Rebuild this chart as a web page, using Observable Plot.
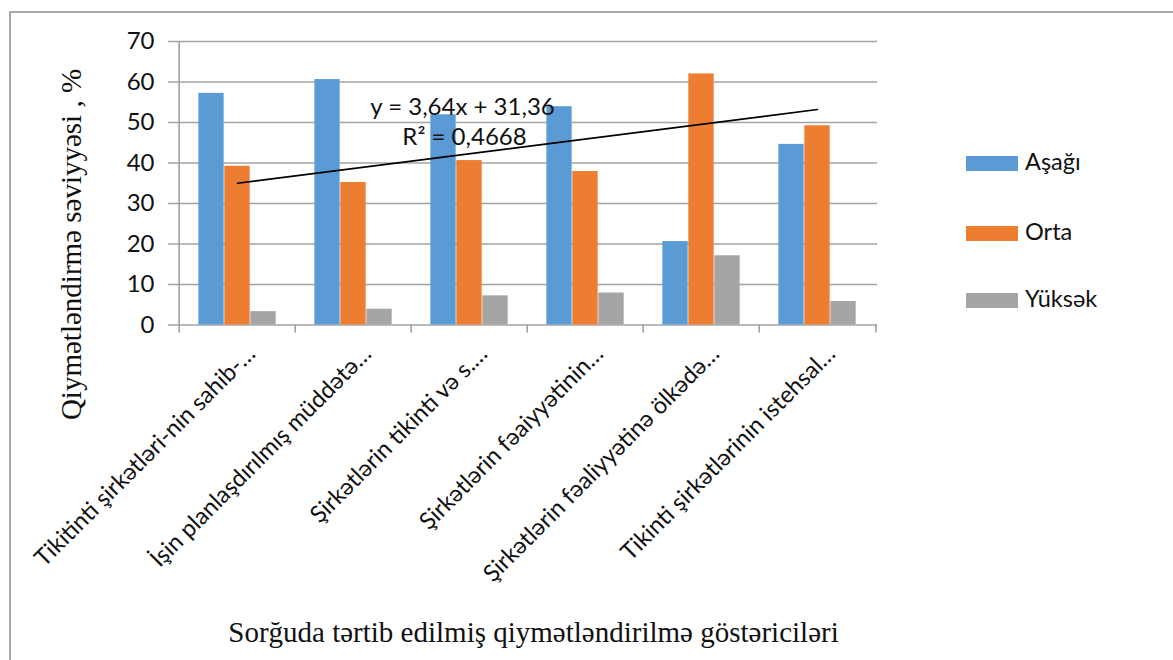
<!DOCTYPE html>
<html>
<head>
<meta charset="utf-8">
<script src="https://cdn.jsdelivr.net/npm/d3@7"></script>
<script src="https://cdn.jsdelivr.net/npm/@observablehq/plot@0.6"></script>
<style>
  html, body { margin: 0; padding: 0; background: #fff; }
  #wrap { position: relative; width: 1173px; height: 660px; overflow: hidden; }
  #border { position: absolute; left: 9px; top: 11px; right: 0; bottom: 0;
            border-top: 2px solid #a8a8a8; border-left: 2px solid #a8a8a8; }
  #chart { position: absolute; left: 0; top: 0; }
  .leg { position: absolute; left: 966px; font: 23.5px Lato, sans-serif; color: #111; }
  .leg span.sw { position: absolute; left: 0; width: 52px; height: 15px; }
  .leg span.lb { position: absolute; left: 59px; white-space: nowrap; line-height: 1; }
</style>
</head>
<body>
<div id="wrap">
  <div id="border"></div>
  <div id="chart"></div>
</div>
<script>
// ---- data ----
const categories = [
  "Tikitinti şirkətləri-nin sahib-…",
  "İşin planlaşdırılmış müddətə…",
  "Şirkətlərin tikinti və s.…",
  "Şirkətlərin fəaiyyətinin…",
  "Şirkətlərin fəaliyyətinə ölkədə…",
  "Tikinti şirkətlərinin istehsal…"
];
const seriesNames = ["Aşağı", "Orta", "Yüksək"];
const asagi  = [57.2, 60.6, 51.9, 53.9, 20.6, 44.6];
const orta   = [39.2, 35.2, 40.6, 37.9, 62.0, 49.2];
const yuksek = [3.3, 3.9, 7.2, 7.9, 17.1, 5.8];
const yTicks = [0, 10, 20, 30, 40, 50, 60, 70];
const trendSlope = 3.64;
const trendIntercept = 31.36;
const trendR2 = "0,4668";
const yTitle = "Qiymətləndirmə səviyyəsi , %";
const xTitle = "Sorğuda tərtib edilmiş qiymətləndirilmə göstəriciləri";

// ---- style ----
const colors = ["#5b9bd5", "#ed7d31", "#a5a5a5"];
const gridColor = "#a3a3a3";
const W = 1173, H = 660, ML = 177, MR = 296, MT = 41, MB = 335.5;
const bw = (W - ML - MR) / categories.length;
const barW = 26;
const gap = (bw - 3 * barW) / 2;
const sansFont = "Lato, 'Open Sans', sans-serif";
const serifFont = "'Liberation Serif', 'DejaVu Serif', serif";

const seriesValues = [asagi, orta, yuksek];
const rows = categories.map((c, i) => ({category: c, v0: asagi[i], v1: orta[i], v2: yuksek[i]}));
const last = categories[categories.length - 1];
const trendIdx = [0, categories.length - 1];

const barMarks = seriesValues.map((_, k) => Plot.barY(rows, {
  x: "category", y: "v" + k, fill: colors[k],
  insetLeft: gap + k * barW, insetRight: bw - gap - (k + 1) * barW
}));

const chart = Plot.plot({
  width: W, height: H,
  marginLeft: ML, marginRight: MR, marginTop: MT, marginBottom: MB,
  x: {domain: categories, padding: 0, axis: null},
  y: {domain: [0, 70], axis: null},
  style: {background: "transparent", overflow: "visible", fontFamily: sansFont, color: "#111"},
  marks: [
    // gridlines + y ticks
    Plot.ruleY(yTicks, {y: d => d, stroke: gridColor, strokeWidth: 1.7, insetLeft: -9}),
    // y axis line
    Plot.ruleX([categories[0]], {x: d => d, dx: -bw / 2, y1: 0, y2: 70, stroke: gridColor, strokeWidth: 1.7}),
    // category boundary ticks
    Plot.ruleX(categories, {x: d => d, dx: -bw / 2, y1: 0, y2: 0, insetBottom: -8, stroke: gridColor, strokeWidth: 1.7}),
    Plot.ruleX([last], {x: d => d, dx: bw / 2, y1: 0, y2: 0, insetBottom: -8, stroke: gridColor, strokeWidth: 1.7}),
    ...barMarks,
    // trend line (linear, Orta)
    Plot.line(trendIdx, {x: i => categories[i], y: i => trendIntercept + trendSlope * (i + 1), stroke: "#000", strokeWidth: 1.6}),
    // y tick labels
    Plot.text(yTicks, {y: d => d, text: d => String(d), frameAnchor: "left", textAnchor: "end", dx: -23, fontSize: 24, fill: "#111"}),
    // category labels
    Plot.text(categories, {x: d => d, text: d => d, frameAnchor: "bottom", rotate: -45, textAnchor: "end",
      lineAnchor: "middle", dx: 14, dy: 25, fontSize: 23.5, fill: "#111"}),
    // trend equation
    Plot.text([`y = ${String(trendSlope).replace(".", ",")}x + ${String(trendIntercept).replace(".", ",")}`],
      {frameAnchor: "top-left", dx: 462 - ML, dy: 97 - MT, textAnchor: "middle", fontSize: 24, fill: "#111"}),
    Plot.text([`R² = ${trendR2}`],
      {frameAnchor: "top-left", dx: 464 - ML, dy: 127 - MT, textAnchor: "middle", fontSize: 24, fill: "#111"}),
    // axis titles
    Plot.text([yTitle], {frameAnchor: "left", rotate: -90, textAnchor: "middle", dx: 71 - ML, dy: 244 - (MT + H - MB) / 2,
      fontFamily: serifFont, fontSize: 29, fill: "#111"}),
    Plot.text([xTitle], {frameAnchor: "bottom", textAnchor: "middle", dx: 533 - (ML + W - MR) / 2, dy: 641 - (H - MB),
      fontFamily: serifFont, fontSize: 29, fill: "#111"})
  ]
});
document.getElementById("chart").appendChild(chart);

// legend
const legendY = [163, 233, 300];
const wrap = document.getElementById("wrap");
seriesNames.forEach((name, k) => {
  const d = document.createElement("div");
  d.className = "leg";
  d.style.top = legendY[k] + "px";
  d.innerHTML = `<span class="sw" style="background:${colors[k]};top:-7.5px"></span><span class="lb" style="top:-13px">${name}</span>`;
  wrap.appendChild(d);
});
</script>
</body>
</html>
